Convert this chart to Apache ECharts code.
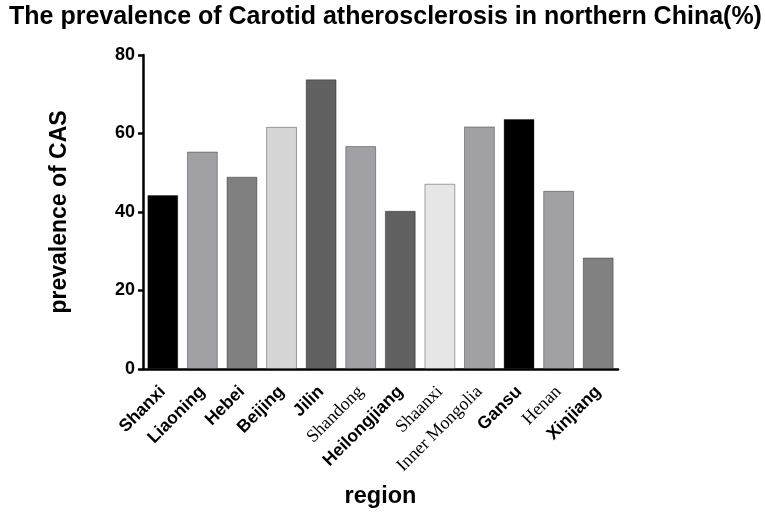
<!DOCTYPE html>
<html>
<head>
<meta charset="utf-8">
<script src="https://cdn.jsdelivr.net/npm/echarts@6/dist/echarts.min.js"></script>
<style>
  html, body { margin: 0; padding: 0; background: #fff; }
  #chart { width: 765px; height: 514px; }
</style>
</head>
<body>
<div id="chart"></div>
<script>
// regions along the x axis
const regions = ['Shanxi', 'Liaoning', 'Hebei', 'Beijing', 'Jilin', 'Shandong',
  'Heilongjiang', 'Shaanxi', 'Inner Mongolia', 'Gansu', 'Henan', 'Xinjiang'];
// prevalence of CAS (%)
const prevalence = [44.3, 55.4, 49.0, 61.7, 73.8, 56.8, 40.3, 47.2, 61.8, 63.7, 45.4, 28.4];
const barColors = ['#000000', '#a1a1a5', '#808080', '#d6d6d6', '#616161', '#a1a1a5',
  '#616161', '#e6e6e6', '#a1a1a5', '#000000', '#a1a1a5', '#818181'];
// labels set in a serif face in the original
const serifLabels = ['Shandong', 'Shaanxi', 'Inner Mongolia', 'Henan'];
const yTicks = [0, 20, 40, 60, 80];

const chart = echarts.init(document.getElementById('chart'));

chart.setOption({
  animation: false,
  title: {
    text: 'The prevalence of Carotid atherosclerosis in northern China(%)',
    left: 4,
    top: 0,
    textStyle: { fontFamily: 'Liberation Sans', fontWeight: 'bold', fontSize: 25, color: '#000' }
  },
  grid: { left: 143, right: 147, top: 55, bottom: 143 },
  xAxis: {
    type: 'category',
    data: regions,
    name: 'region',
    nameLocation: 'middle',
    nameGap: 116,
    nameTextStyle: { fontFamily: 'Liberation Sans', fontWeight: 'bold', fontSize: 23.5, color: '#000' },
    axisLine: { lineStyle: { color: '#000', width: 2.5 } },
    axisTick: { alignWithLabel: true, length: 5, lineStyle: { color: '#000', width: 2.5 } },
    axisLabel: {
      rotate: 45,
      interval: 0,
      margin: 20,
      formatter: v => (serifLabels.includes(v) ? '{s|' + v + '}' : '{b|' + v + '}'),
      rich: {
        b: { fontFamily: 'Liberation Sans', fontWeight: 'bold', fontSize: 17.5, color: '#000' },
        s: { fontFamily: 'Liberation Serif', fontWeight: 'normal', fontSize: 18, color: '#000' }
      }
    }
  },
  yAxis: {
    type: 'value',
    min: yTicks[0],
    max: yTicks[yTicks.length - 1],
    interval: 20,
    name: 'prevalence of CAS',
    nameLocation: 'middle',
    nameGap: 72,
    nameTextStyle: { fontFamily: 'Liberation Sans', fontWeight: 'bold', fontSize: 23, color: '#000' },
    axisLine: { show: true, lineStyle: { color: '#000', width: 2.5 } },
    axisTick: { show: true, length: 5, lineStyle: { color: '#000', width: 2.5 } },
    axisLabel: { fontFamily: 'Liberation Sans', fontWeight: 'bold', fontSize: 18, color: '#000', margin: 8 },
    splitLine: { show: false }
  },
  series: [{
    type: 'bar',
    barCategoryGap: '22%',
    data: prevalence.map((v, i) => ({
      value: v,
      itemStyle: { color: barColors[i], borderColor: 'rgba(0,0,0,0.35)', borderWidth: 1 }
    }))
  }]
});
</script>
</body>
</html>
